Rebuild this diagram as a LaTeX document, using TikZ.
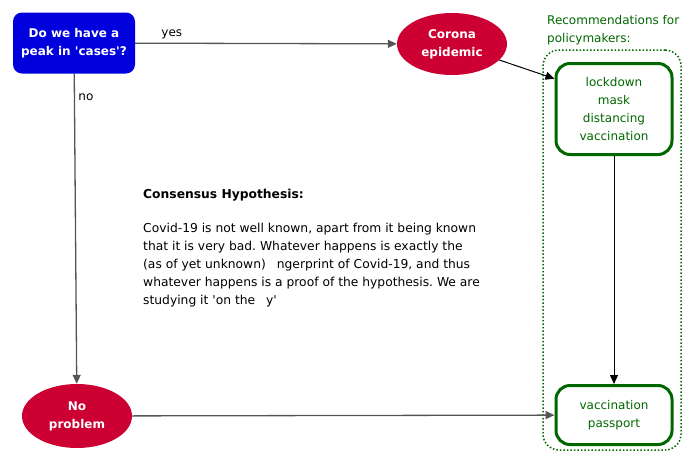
\documentclass[tikz,border=0pt]{standalone}
\usepackage{fontspec}
\setmainfont{DejaVu Sans}
\usetikzlibrary{arrows.meta,positioning,shapes.geometric}
\definecolor{qblue}{HTML}{0000DD}
\definecolor{qred}{HTML}{CC0033}
\definecolor{qgreen}{HTML}{006600}
\definecolor{qline}{HTML}{555555}
\frenchspacing

\begin{document}
\begin{tikzpicture}[x=1pt,y=-1pt,font=\fontsize{12}{18}\selectfont,
  >={Triangle[length=9pt,width=8pt]},
  q/.style={fill=qblue,text=white,font=\fontsize{12}{18}\selectfont\bfseries,rounded corners=9pt,
    minimum width=122pt,minimum height=61pt,align=center,inner sep=2pt},
  ell/.style={ellipse,fill=qred,text=white,font=\fontsize{12}{18}\selectfont\bfseries,
    minimum width=110pt,minimum height=62pt,align=center,inner sep=1pt},
  rec/.style={draw=qgreen,line width=3pt,rounded corners=14pt,text=qgreen,
    minimum width=116pt,align=center,inner sep=2pt},
  ln/.style={->,draw=qline,line width=1.3pt}]
  \useasboundingbox (0,0) rectangle (691,453);
  \node[q] (peak) at (74,43) {Do we have a\\peak in \textquotesingle cases\textquotesingle?};
  \node[ell] (corona) at (452,44) {Corona\\epidemic};
  \node[ell,minimum height=64pt] (nop) at (77,416) {No\\problem};
  \node[rec,minimum height=91pt] (lock) at (614,109) {lockdown\\mask\\distancing\\vaccination};
  \node[rec,minimum height=59pt] (pass) at (614,415) {vaccination\\passport};
  \node[draw=qgreen,dotted,line width=1.5pt,rounded corners=16pt,
    minimum width=138pt,minimum height=400pt] (grp) at (612,250) {};
  \node[anchor=south west,text=qgreen,align=left,inner sep=0pt] (rtitle) at (547,45)
    {Recommendations for\\policymakers:};
  \node[anchor=north west,align=left,inner sep=0pt,font=\fontsize{12.3}{18}\selectfont] (hyp) at (143,189)
    {\textbf{Consensus Hypothesis:}\\[16pt]
     Covid-19 is not well known, apart from it being known\\
     that it is very bad. Whatever happens is exactly the\\
     (as of yet unknown)\hspace{11pt}ngerprint of Covid-19, and thus\\
     whatever happens is a proof of the hypothesis. We are\\
     studying it \textquotesingle on the\hspace{11pt}y\textquotesingle};
  % edges
  \draw[ln] (peak) -- node[above,pos=0.14] {yes} (corona);
  \draw[ln] (peak) -- node[right,pos=0.075] {no} (nop);
  \draw[->,line width=1pt] (corona) -- (lock.153);
  \draw[->,line width=1pt] (lock) -- (pass);
  \draw[ln] (nop) -- (pass);
\end{tikzpicture}
\end{document}
